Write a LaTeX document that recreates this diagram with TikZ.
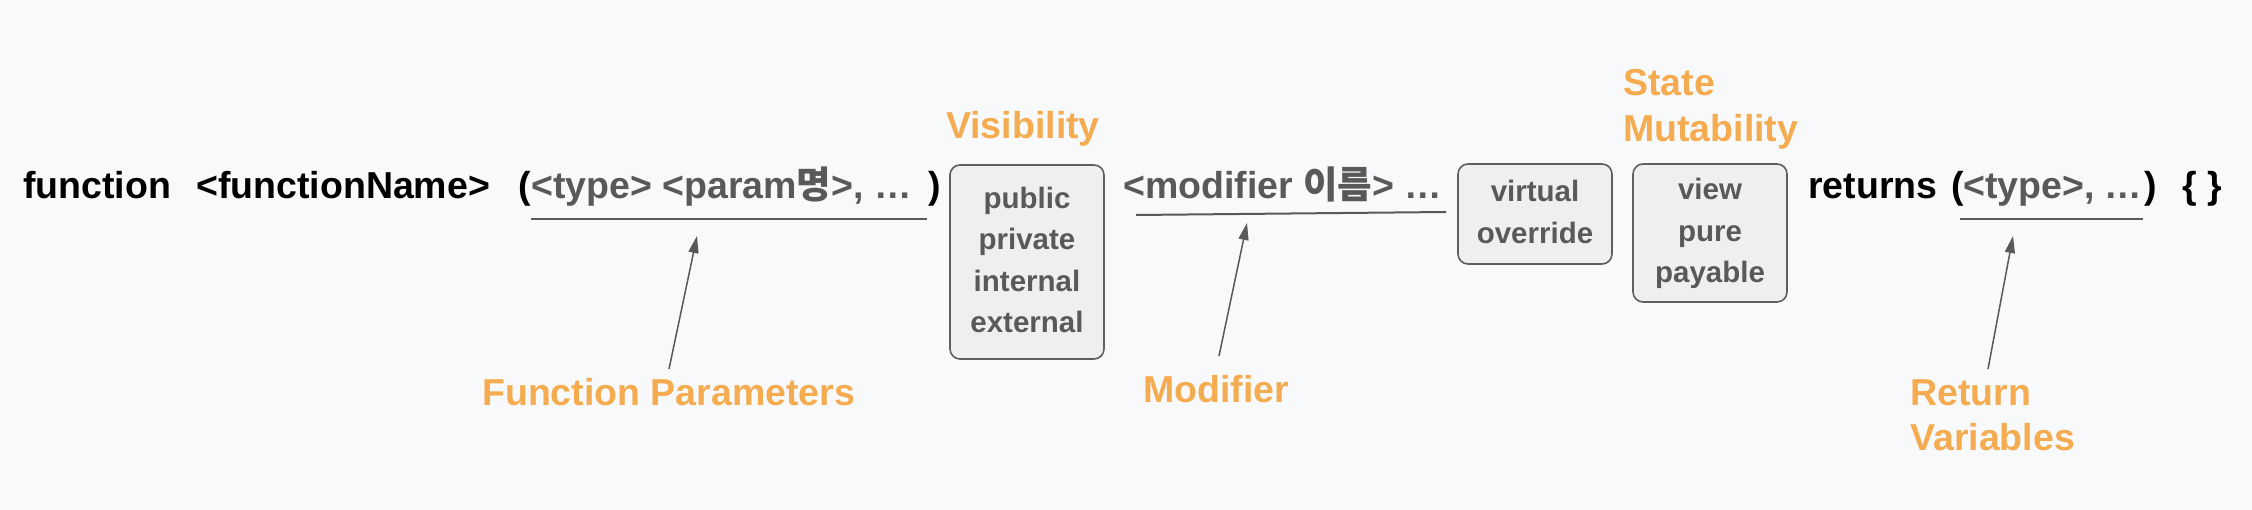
\documentclass[tikz,border=0pt]{standalone}
\usepackage{fontspec}
\setmainfont{Liberation Sans}
\newfontfamily\krfont{Noto Sans CJK KR}
\usetikzlibrary{arrows.meta}
\definecolor{bgc}{HTML}{F8F9FA}
\definecolor{orng}{HTML}{F5AC50}
\definecolor{grayt}{HTML}{595959}
\definecolor{boxfill}{HTML}{EFEFEF}
\definecolor{boxline}{HTML}{5F5F5F}
\newcommand{\kr}[1]{{\krfont\bfseries #1}}
\tikzset{
  code/.style={inner sep=0pt, anchor=base west, font=\fontsize{37.5}{44}\selectfont\bfseries, text=black},
  codegray/.style={code, text=grayt},
  lbl/.style={inner sep=0pt, anchor=base west, font=\fontsize{37.5}{44}\selectfont\bfseries, text=orng},
  optbox/.style={draw=boxline, line width=1.6pt, fill=boxfill, rounded corners=10pt, inner sep=0pt,
     align=center, text=grayt, font=\fontsize{29.5}{41.5}\selectfont\bfseries},
  uline/.style={draw=grayt, line width=2pt},
  pointer/.style={draw=grayt, line width=1.5pt, -{Triangle[length=17pt,width=10pt]}}
}
\begin{document}
\begin{tikzpicture}[x=1pt,y=-1pt]
\fill[bgc] (0,0) rectangle (2252,510);
\useasboundingbox (0,0) rectangle (2252,510);

% main line
\node[code] (kw) at (23,199) {function};
\node[code] (fname) at (196,199) {<functionName>};
\node[code] (lp1) at (518,199) {(};
\node[codegray] (params) at (531,199) {<type> <param\kr{명}>, …};
\node[code] (rp1) at (928,199) {)};

\node[optbox, minimum width=154pt, minimum height=194pt] (vis) at (1027,262)
  {\strut public\\\strut private\\\strut internal\\\strut external};

\node[codegray] (modt) at (1123,199) {<modifier \kr{이름}> …};

\node[optbox, minimum width=154pt, minimum height=100pt] (virt) at (1535,214)
  {\strut virtual\\\strut override};

\node[optbox, minimum width=154pt, minimum height=138pt] (mut) at (1710,233)
  {\strut view\\\strut pure\\\strut payable};

\node[code] (ret) at (1808,199) {returns};
\node[code] (lp2) at (1951,199) {(};
\node[codegray] (rtype) at (1963,199) {<type>, …};
\node[code] (rp2) at (2144,199) {)};
\node[code] (braces) at (2182,199) {\{ \}};

% labels
\node[lbl] (visl) at (946,139) {Visibility};
\node[lbl] (statel) at (1623,96) {State};
\node[lbl] (mutl) at (1623,142) {Mutability};
\node[lbl] (fpl) at (482,406) {Function Parameters};
\node[lbl] (modl) at (1143,403) {Modifier};
\node[lbl] (retl) at (1910,406) {Return};
\node[lbl] (varl) at (1910,450) {Variables};

% underlines
\coordinate (u1a) at (531,219); \coordinate (u1b) at (927,219);
\coordinate (u2a) at (1136,215); \coordinate (u2b) at (1446,212);
\coordinate (u3a) at (1960,219); \coordinate (u3b) at (2143,219);
\path[uline] (u1a) -- (u1b);
\path[uline] (u2a) -- (u2b);
\path[uline] (u3a) -- (u3b);

% pointers
\coordinate (p1s) at (669,369); \coordinate (p1e) at (697,236);
\coordinate (p2s) at (1219,356); \coordinate (p2e) at (1247,223);
\coordinate (p3s) at (1988,369); \coordinate (p3e) at (2013,236);
\path[pointer] (p1s) -- (p1e);
\path[pointer] (p2s) -- (p2e);
\path[pointer] (p3s) -- (p3e);
\end{tikzpicture}
\end{document}
